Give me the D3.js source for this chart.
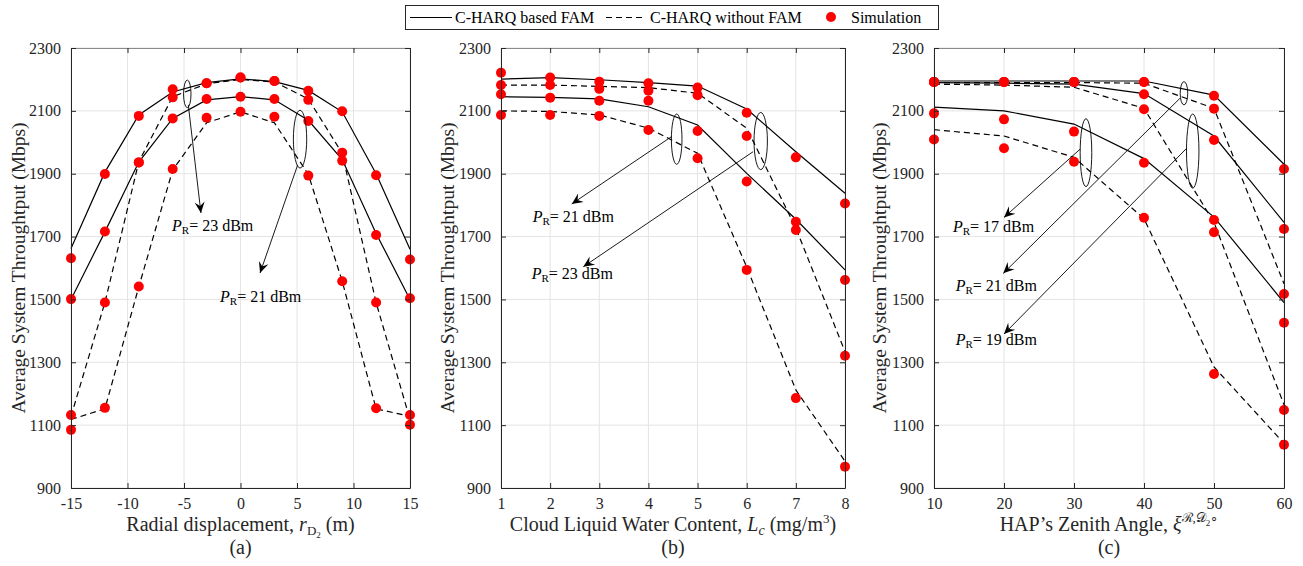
<!DOCTYPE html>
<html>
<head>
<meta charset="utf-8">
<script src="https://cdn.jsdelivr.net/npm/d3@7"></script>
<style>
  body { margin: 0; background: #fff; }
  svg { display: block; }
</style>
</head>
<body>
<svg id="fig" width="1303" height="566"></svg>
<script>
// ---------- shared ----------
const yTicks = [900, 1100, 1300, 1500, 1700, 1900, 2100, 2300];

// ---------- panel (a): radial displacement ----------
const xA = [-15, -12, -9, -6, -3, 0, 3, 6, 9, 12, 15];
const xTicksA = [-15, -10, -5, 0, 5, 10, 15];
const aFam23   = [1662, 1905, 2087, 2160, 2190, 2202, 2193, 2165, 2097, 1900, 1660];
const aFam21   = [1500, 1715, 1937, 2076, 2135, 2145, 2135, 2070, 1945, 1710, 1500];
const aNoFam23 = [1128, 1490, 1938, 2145, 2186, 2200, 2192, 2138, 1965, 1490, 1118];
const aNoFam21 = [1118, 1152, 1540, 1912, 2062, 2097, 2062, 1898, 1558, 1152, 1128];
const aSim23   = [1631, 1899, 2084, 2169, 2188, 2206, 2195, 2164, 2099, 1895, 1627];
const aSim21   = [1501, 1716, 1936, 2076, 2138, 2145, 2138, 2068, 1941, 1705, 1504];
const aSimNo23 = [1132, 1490, 1936, 2143, 2188, 2206, 2195, 2135, 1967, 1490, 1132];
const aSimNo21 = [1085, 1155, 1541, 1915, 2078, 2097, 2081, 1894, 1558, 1154, 1101];

// ---------- panel (b): cloud liquid water content ----------
const xB = [1, 2, 3, 4, 5, 6, 7, 8];
const xTicksB = [1, 2, 3, 4, 5, 6, 7, 8];
const bFam23   = [2201, 2206, 2199, 2190, 2179, 2106, 1970, 1838];
const bNoFam23 = [2182, 2182, 2178, 2174, 2156, 2045, 1727, 1334];
const bFam21   = [2145, 2143, 2138, 2113, 2055, 1901, 1755, 1594];
const bNoFam21 = [2100, 2098, 2087, 2045, 1965, 1603, 1212, 985];
const bSim23   = [2221, 2206, 2193, 2188, 2174, 2094, 1952, 1805];
const bSimNo23 = [2182, 2182, 2170, 2164, 2150, 2020, 1721, 1321];
const bSim21   = [2153, 2142, 2132, 2132, 2036, 1875, 1747, 1562];
const bSimNo21 = [2087, 2087, 2084, 2039, 1949, 1594, 1186, 968];

// ---------- panel (c): HAP zenith angle ----------
const xC = [10, 20, 30, 40, 50, 60];
const xTicksC = [10, 20, 30, 40, 50, 60];
const cFam21   = [2195, 2195, 2195, 2195, 2150, 1930];
const cFam19   = [2190, 2188, 2185, 2155, 2020, 1745];
const cFam17   = [2112, 2100, 2058, 1948, 1762, 1490];
const cNoFam21 = [2190, 2190, 2190, 2188, 2108, 1550];
const cNoFam19 = [2185, 2182, 2175, 2108, 1745, 1165];
const cNoFam17 = [2040, 2020, 1952, 1757, 1285, 1042];
const cSim21   = [2192, 2192, 2192, 2192, 2148, 1915];
const cSim19   = [2192, 2192, 2192, 2153, 2007, 1724];
const cSim17   = [2092, 2073, 2034, 1935, 1753, 1426];
const cSimNo21 = [2192, 2192, 2192, 2192, 2107, 1517];
const cSimNo19 = [2192, 2192, 2192, 2105, 1714, 1148];
const cSimNo17 = [2009, 1981, 1938, 1760, 1263, 1038];

// ---------- drawing ----------
const svg = d3.select('#fig');
const SERIF = '"Liberation Serif", "Times New Roman", serif';
const AX = '#262626';
const TOP = 48, BOTTOM = 488;
const y = d3.scaleLinear().domain([900, 2300]).range([BOTTOM, TOP]);

// append tspans with vertical offsets (px) relative to the baseline
function rich(text, segs) {
  let cur = 0;
  segs.forEach(s => {
    const off = s.off || 0;
    const ts = text.append('tspan').text(s.t).attr('dy', off - cur);
    cur = off;
    if (s.i) ts.attr('font-style', 'italic');
    if (s.fs) ts.attr('font-size', s.fs);
  });
}

function arrow(g, x1, y1, x2, y2) {
  g.append('line').attr('x1', x1).attr('y1', y1).attr('x2', x2).attr('y2', y2)
    .attr('stroke', '#000').attr('stroke-width', 0.9);
  const a = Math.atan2(y2 - y1, x2 - x1);
  const L = 11, W = 5, N = 7;
  const ux = Math.cos(a), uy = Math.sin(a), px = -uy, py = ux;
  const pts = [
    [x2, y2],
    [x2 - ux * L + px * W, y2 - uy * L + py * W],
    [x2 - ux * N, y2 - uy * N],
    [x2 - ux * L - px * W, y2 - uy * L - py * W]
  ];
  g.append('path').attr('d', 'M' + pts.map(p => p.join(',')).join('L') + 'Z').attr('fill', '#000');
}

function panel(p) {
  const x = d3.scaleLinear().domain(p.domain).range([p.left, p.right]);
  const g = svg.append('g');

  // grid
  g.selectAll(null).data(p.xticks).join('line')
    .attr('x1', d => x(d)).attr('x2', d => x(d)).attr('y1', TOP).attr('y2', BOTTOM)
    .attr('stroke', '#e4e4e4').attr('stroke-width', 1);
  g.selectAll(null).data(yTicks).join('line')
    .attr('x1', p.left).attr('x2', p.right).attr('y1', d => y(d)).attr('y2', d => y(d))
    .attr('stroke', '#e4e4e4').attr('stroke-width', 1);

  // curves
  const line = d3.line().x((d, i) => x(p.xs[i])).y(d => y(d));
  p.curves.forEach(c => {
    g.append('path').attr('d', line(c.v)).attr('fill', 'none')
      .attr('stroke', '#000').attr('stroke-width', 1.2)
      .attr('stroke-dasharray', c.dash ? '6,4' : null);
  });

  // simulation markers
  p.sims.forEach(s => {
    g.selectAll(null).data(s).join('circle')
      .attr('cx', (d, i) => x(p.xs[i])).attr('cy', d => y(d))
      .attr('r', 5).attr('fill', '#ff0000');
  });

  // axes (ticks point inward)
  const fmt = d => String(d);
  const bottomAx = g.append('g').attr('transform', `translate(0,${BOTTOM})`)
    .call(d3.axisBottom(x).tickValues(p.xticks).tickSizeInner(-5).tickSizeOuter(0).tickPadding(10).tickFormat(fmt));
  const topAx = g.append('g').attr('transform', `translate(0,${TOP})`)
    .call(d3.axisTop(x).tickValues(p.xticks).tickSizeInner(-5).tickSizeOuter(0).tickFormat(''));
  const leftAx = g.append('g').attr('transform', `translate(${p.left},0)`)
    .call(d3.axisLeft(y).tickValues(yTicks).tickSizeInner(-5).tickSizeOuter(0).tickPadding(10).tickFormat(fmt));
  const rightAx = g.append('g').attr('transform', `translate(${p.right},0)`)
    .call(d3.axisRight(y).tickValues(yTicks).tickSizeInner(-5).tickSizeOuter(0).tickFormat(''));
  [bottomAx, topAx, leftAx, rightAx].forEach(a => {
    a.select('.domain').attr('stroke', AX).attr('stroke-width', 1);
    a.selectAll('.tick line').attr('stroke', AX);
    a.selectAll('.tick text').attr('fill', AX).attr('font-family', SERIF).attr('font-size', 16);
  });
  topAx.select('.domain').attr('stroke', '#8a8a8a');

  // y label
  g.append('text')
    .attr('transform', `translate(${p.ylabX},${(TOP + BOTTOM) / 2}) rotate(-90)`)
    .attr('text-anchor', 'middle').attr('dominant-baseline', 'central')
    .attr('font-family', SERIF).attr('font-size', 19.5).attr('fill', AX)
    .text('Average System Throughtput (Mbps)');

  // x label + panel tag
  const xl = g.append('text')
    .attr('x', (p.left + p.right) / 2).attr('y', 531)
    .attr('text-anchor', 'middle').attr('font-family', SERIF)
    .attr('font-size', 20).attr('fill', AX);
  rich(xl, p.xlabel);
  g.append('text')
    .attr('x', (p.left + p.right) / 2).attr('y', 554)
    .attr('text-anchor', 'middle').attr('font-family', SERIF)
    .attr('font-size', 20).attr('fill', AX).text(p.tag);

  // annotations
  p.ellipses.forEach(e => {
    g.append('ellipse')
      .attr('cx', x(e[0])).attr('cy', y(e[1]))
      .attr('rx', Math.abs(x(e[0] + e[2]) - x(e[0]))).attr('ry', Math.abs(y(e[1] + e[3]) - y(e[1])))
      .attr('fill', 'none').attr('stroke', '#000').attr('stroke-width', 0.9);
  });
  p.arrows.forEach(a => arrow(g, x(a[0]), y(a[1]), x(a[2]), y(a[3])));
  p.labels.forEach(l => {
    const t = g.append('text').attr('x', x(l[0])).attr('y', y(l[1]))
      .attr('font-family', SERIF).attr('font-size', 16).attr('fill', '#000');
    rich(t, [
      { t: 'P', i: true },
      { t: 'R', off: 3, fs: 11 },
      { t: '= ' + l[2] + ' dBm', off: 0 }
    ]);
  });
}

panel({
  left: 71, right: 410, domain: [-15, 15], xs: xA, xticks: xTicksA, ylabX: 18, tag: '(a)',
  curves: [
    { v: aFam23 }, { v: aFam21 }, { v: aNoFam23, dash: true }, { v: aNoFam21, dash: true }
  ],
  sims: [aSim23, aSim21, aSimNo23, aSimNo21],
  xlabel: [
    { t: 'Radial displacement, ' },
    { t: 'r', i: true },
    { t: 'D', off: 4, fs: 13 },
    { t: '2', off: 7, fs: 9 },
    { t: ' (m)', off: 0 }
  ],
  ellipses: [[-4.71, 2154, 0.33, 44], [5.27, 2010, 0.59, 92]],
  arrows: [[-4.62, 2119, -3.5, 1775], [5.06, 1928, 1.73, 1584]],
  labels: [[-6.06, 1718, '23'], [-1.81, 1493, '21']]
});

panel({
  left: 501, right: 845, domain: [1, 8], xs: xB, xticks: xTicksB, ylabX: 447, tag: '(b)',
  curves: [
    { v: bFam23 }, { v: bFam21 }, { v: bNoFam23, dash: true }, { v: bNoFam21, dash: true }
  ],
  sims: [bSim23, bSimNo23, bSim21, bSimNo21],
  xlabel: [
    { t: 'Cloud Liquid Water Content, ' },
    { t: 'L', i: true },
    { t: 'c', i: true, off: 4, fs: 14 },
    { t: ' (mg/m', off: 0 },
    { t: '3', off: -8, fs: 13 },
    { t: ')', off: 0 }
  ],
  ellipses: [[4.575, 2010, 0.108, 80], [6.285, 2004, 0.136, 91]],
  arrows: [[4.47, 2018, 2.44, 1804], [6.13, 1970, 2.675, 1604]],
  labels: [[1.645, 1747, '21'], [1.625, 1564, '23']]
});

panel({
  left: 934, right: 1284, domain: [10, 60], xs: xC, xticks: xTicksC, ylabX: 879, tag: '(c)',
  curves: [
    { v: cFam21 }, { v: cFam19 }, { v: cFam17 },
    { v: cNoFam21, dash: true }, { v: cNoFam19, dash: true }, { v: cNoFam17, dash: true }
  ],
  sims: [cSim21, cSim19, cSim17, cSimNo21, cSimNo19, cSimNo17],
  xlabel: [
    { t: 'HAP\u2019s Zenith Angle, ' },
    { t: '\u03BE', i: true },
    { t: '\u211B,\uD835\uDC9F', off: -9, fs: 13 },
    { t: '2', off: -5, fs: 9 },
    { t: '\u2218', off: -9, fs: 13 },
    { t: '', off: 0 }
  ],
  ellipses: [[31.71, 1967, 0.83, 108], [45.71, 2156, 0.54, 37], [46.96, 1972, 0.89, 118]],
  arrows: [[30.86, 1978, 20, 1761], [45.14, 2140, 19.9, 1583], [46.1, 1981, 20, 1390]],
  labels: [[12.71, 1714, '17'], [13.1, 1528, '21'], [13.1, 1355, '19']]
});

// ---------- legend ----------
const leg = svg.append('g');
leg.append('rect').attr('x', 405.5).attr('y', 5.5).attr('width', 533).attr('height', 24)
  .attr('fill', '#fff').attr('stroke', AX).attr('stroke-width', 1);
leg.append('line').attr('x1', 410).attr('x2', 452).attr('y1', 17.5).attr('y2', 17.5)
  .attr('stroke', '#000').attr('stroke-width', 1.2);
leg.append('text').attr('x', 455).attr('y', 23).attr('font-family', SERIF).attr('font-size', 16)
  .attr('fill', '#000').text('C-HARQ based FAM');
leg.append('line').attr('x1', 606).attr('x2', 644).attr('y1', 17.5).attr('y2', 17.5)
  .attr('stroke', '#000').attr('stroke-width', 1.2).attr('stroke-dasharray', '6,4');
leg.append('text').attr('x', 650).attr('y', 23).attr('font-family', SERIF).attr('font-size', 16)
  .attr('fill', '#000').text('C-HARQ without FAM');
leg.append('circle').attr('cx', 831).attr('cy', 17).attr('r', 5).attr('fill', '#ff0000');
leg.append('text').attr('x', 851).attr('y', 23).attr('font-family', SERIF).attr('font-size', 16)
  .attr('fill', '#000').text('Simulation');
</script>
</body>
</html>
